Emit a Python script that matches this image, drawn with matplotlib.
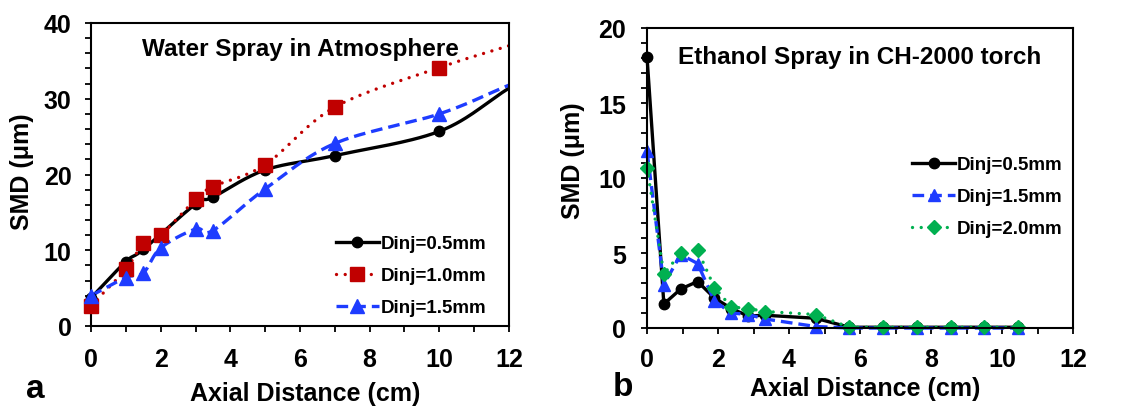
import numpy as np
import matplotlib
matplotlib.use("Agg")
import matplotlib.pyplot as plt
from matplotlib.lines import Line2D

plt.rcParams['font.family'] = ['Liberation Sans', 'DejaVu Sans']
plt.rcParams['font.weight'] = 'bold'

# panel a: water spray in atmosphere (last point at x=12 sits on the axis edge)
water_x_05 = [0, 1, 1.5, 3, 3.5, 5, 7, 10, 12]
water_y_05 = [3.7, 8.5, 10.1, 16.1, 17.0, 20.6, 22.5, 25.7, 31.4]
water_x_10 = [0, 1, 1.5, 2, 3, 3.5, 5, 7, 10, 12]
water_y_10 = [2.7, 7.5, 10.9, 12.0, 16.7, 18.4, 21.3, 28.9, 34.1, 37.0]
water_x_15 = [0, 1, 1.5, 2, 3, 3.5, 5, 7, 10, 12]
water_y_15 = [4.0, 6.4, 7.0, 10.3, 12.8, 12.6, 18.1, 24.1, 28.0, 31.8]

# panel b: ethanol spray in CH-2000 torch
eth_x = [0, 0.475, 0.95, 1.425, 1.9, 2.375, 2.85, 3.325, 4.75, 5.7, 6.65, 7.6, 8.55, 9.5, 10.45]
eth_y_05 = [18.1, 1.6, 2.6, 3.1, 2.0, 1.3, 0.8, 0.85, 0.65, 0.05, 0.05, 0.05, 0.05, 0.05, 0.05]
eth_y_15 = [11.8, 2.9, 4.9, 4.3, 1.8, 1.0, 0.9, 0.6, 0.1, 0.0, 0.0, 0.0, 0.0, 0.0, 0.0]
eth_y_20 = [10.7, 3.6, 5.0, 5.2, 2.7, 1.4, 1.3, 1.1, 0.9, 0.05, 0.05, 0.05, 0.05, 0.05, 0.05]

BLACK = 'black'
RED = '#C00000'
BLUE = '#1E3CFF'
GREEN = '#00B050'


def smooth(x, y, n=30):
    # catmull-rom curve through the points (like excel "smoothed line")
    x = np.asarray(x, float)
    y = np.asarray(y, float)
    px = np.concatenate([[2 * x[0] - x[1]], x, [2 * x[-1] - x[-2]]])
    py = np.concatenate([[2 * y[0] - y[1]], y, [2 * y[-1] - y[-2]]])
    t = np.linspace(0, 1, n)
    xs, ys = [], []
    for i in range(1, len(px) - 2):
        for p, out in ((px, xs), (py, ys)):
            p0, p1, p2, p3 = p[i - 1], p[i], p[i + 1], p[i + 2]
            out.append(0.5 * (2 * p1 + (-p0 + p2) * t + (2 * p0 - 5 * p1 + 4 * p2 - p3) * t ** 2
                              + (-p0 + 3 * p1 - 3 * p2 + p3) * t ** 3))
    return np.concatenate(xs), np.concatenate(ys)


def style_axes(ax, ymax, ystep, yminor, xpad, ypad):
    ax.set_xlim(0, 12)
    ax.set_ylim(0, ymax)
    ax.set_xticks(np.arange(0, 13, 2))
    ax.set_xticks(np.arange(0, 13, 1), minor=True)
    ax.set_yticks(np.arange(0, ymax + 0.1, ystep))
    ax.set_yticks(np.arange(0, ymax + 0.1, yminor), minor=True)
    ax.tick_params(which='both', direction='out', length=4, width=1.3, labelsize=18)
    ax.tick_params(axis='x', pad=xpad)
    ax.tick_params(axis='y', pad=ypad)
    for lab in ax.get_xticklabels() + ax.get_yticklabels():
        lab.set_fontweight('bold')
    for s in ax.spines.values():
        s.set_linewidth(1.5)


fig = plt.figure(figsize=(11.33, 4.10), dpi=100)
ax1 = fig.add_axes([91 / 1133, 83 / 410, 418 / 1133, 303 / 410])
ax2 = fig.add_axes([647 / 1133, 81 / 410, 426 / 1133, 300 / 410])

# ---- panel a
series_a = [
    (water_x_05, water_y_05, BLACK, 'o', 7.5, dict(ls='-'), 'Dinj=0.5mm'),
    (water_x_10, water_y_10, RED, 's', 9.5, dict(ls=(0, (0.01, 2.6)), dash_capstyle='round'), 'Dinj=1.0mm'),
    (water_x_15, water_y_15, BLUE, '^', 9.5, dict(ls=(0, (3.5, 1.8))), 'Dinj=1.5mm'),
]
handles = []
for x, y, c, m, ms, lsd, lab in series_a:
    sx, sy = smooth(x, y)
    ax1.plot(sx, sy, color=c, lw=2.4, zorder=2, **lsd)
    ax1.plot(x[:-1], y[:-1], ls='none', marker=m, ms=ms, color=c, zorder=3, clip_on=False)
    handles.append(Line2D([], [], color=c, lw=2.4, marker=m, ms=ms, label=lab, **lsd))
style_axes(ax1, 40, 10, 2, xpad=11, ypad=10)
ax1.text(0.5, 0.915, 'Water Spray in Atmosphere', transform=ax1.transAxes,
         ha='center', va='center', fontsize=17.5, fontweight='bold')
ax1.legend(handles=handles, loc='upper left', bbox_to_anchor=(0.585, 0.300),
           frameon=False, fontsize=13.5, handlelength=2.3, handletextpad=0.1,
           labelspacing=0.8, borderpad=0, borderaxespad=0)

# ---- panel b
series_b = [
    (eth_y_05, BLACK, 'o', 7.5, dict(ls='-'), 'Dinj=0.5mm'),
    (eth_y_15, BLUE, '^', 8.5, dict(ls=(0, (3.5, 1.8))), 'Dinj=1.5mm'),
    (eth_y_20, GREEN, 'D', 7, dict(ls=(0, (0.01, 2.6)), dash_capstyle='round'), 'Dinj=2.0mm'),
]
for y, c, m, ms, lsd, lab in series_b:
    ax2.plot(eth_x, y, color=c, lw=2.4, marker=m, ms=ms, label=lab, clip_on=False, **lsd)
style_axes(ax2, 20, 5, 1, xpad=10, ypad=11)
ax2.text(0.5, 0.905, 'Ethanol Spray in CH-2000 torch', transform=ax2.transAxes,
         ha='center', va='center', fontsize=17.5, fontweight='bold')
ax2.legend(loc='upper left', bbox_to_anchor=(0.622, 0.573),
           frameon=False, fontsize=13.5, handlelength=2.3, handletextpad=0.1,
           labelspacing=0.8, borderpad=0, borderaxespad=0)

# axis labels and panel letters
fig.text(305 / 1133, 1 - 394 / 410, 'Axial Distance (cm)', ha='center', va='center', fontsize=18, fontweight='bold')
fig.text(865 / 1133, 1 - 389 / 410, 'Axial Distance (cm)', ha='center', va='center', fontsize=18, fontweight='bold')
fig.text(22 / 1133, 1 - 172 / 410, 'SMD (μm)', rotation=90, ha='center', va='center', fontsize=18, fontweight='bold')
fig.text(573 / 1133, 1 - 161 / 410, 'SMD (μm)', rotation=90, ha='center', va='center', fontsize=18, fontweight='bold')
fig.text(35 / 1133, 1 - 390 / 410, 'a', ha='center', va='center', fontsize=24, fontweight='bold')
fig.text(623 / 1133, 1 - 388 / 410, 'b', ha='center', va='center', fontsize=24, fontweight='bold')

fig.savefig('out.png', dpi=100)
